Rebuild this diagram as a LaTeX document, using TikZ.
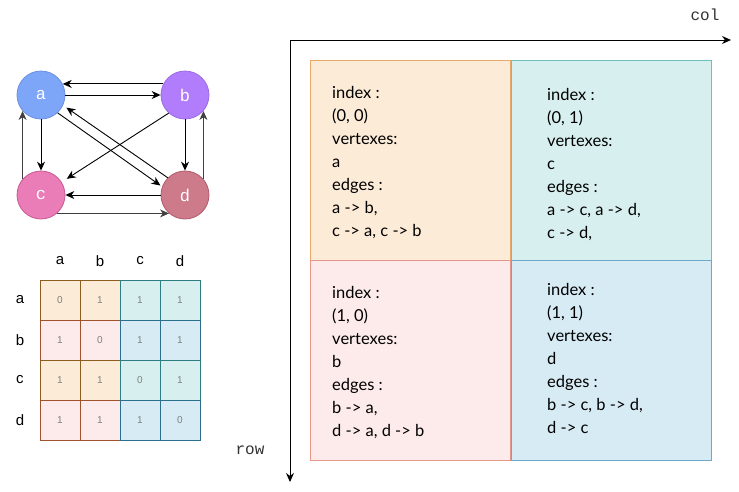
\documentclass[tikz,border=0pt]{standalone}
\usepackage{fontspec}
\setmainfont{Lato}
\setmonofont{Liberation Mono}
\newfontfamily\arialf{Liberation Sans}
\usetikzlibrary{arrows.meta}
\definecolor{aF}{HTML}{7EA6F8}\definecolor{aD}{HTML}{6C8EDF}
\definecolor{bF}{HTML}{B17DFD}\definecolor{bD}{HTML}{9A6AE0}
\definecolor{cF}{HTML}{EA7DB8}\definecolor{cD}{HTML}{C85A90}
\definecolor{dF}{HTML}{CD7A8A}\definecolor{dD}{HTML}{B05A6A}
\definecolor{oF}{HTML}{FCEBD7}\definecolor{oD}{HTML}{8B5E1F}
\definecolor{pF}{HTML}{FCEBEA}\definecolor{pD}{HTML}{A0522D}
\definecolor{tF}{HTML}{D7F0EF}\definecolor{tD}{HTML}{2E7D80}
\definecolor{uF}{HTML}{D7EBF4}\definecolor{uD}{HTML}{2B6E8E}
\definecolor{qoD}{HTML}{E8A86A}\definecolor{qtD}{HTML}{70C0C0}
\definecolor{qpD}{HTML}{E5978B}\definecolor{quD}{HTML}{6EA8C8}
\tikzset{
  vtx/.style={circle,minimum size=48pt,inner sep=0,line width=0.8pt,text=white,font=\ttfamily\fontsize{17}{17}\selectfont},
  edge/.style={-{Stealth[length=9pt,width=8pt]},line width=0.9pt},
  gedge/.style={edge,draw=black!75},
  cell/.style={rectangle,minimum width=40pt,minimum height=40pt,inner sep=0,line width=0.8pt,text=black!50,font=\arialf\fontsize{10}{10}\selectfont},
  mlab/.style={inner sep=0,font=\arialf\fontsize{15}{15}\selectfont},
  quad/.style={rectangle,minimum width=200pt,minimum height=200pt,inner sep=0,line width=0.8pt},
  qtext/.style={anchor=north west,inner sep=0,align=left,font=\fontsize{16.5}{23}\selectfont},
  axis/.style={-{Stealth[length=9pt,width=8pt]},line width=0.9pt},
  axlab/.style={inner sep=0,text=black!80,font=\ttfamily\fontsize{16}{16}\selectfont}
}
\begin{document}
\begin{tikzpicture}[x=1pt,y=-1pt]
\useasboundingbox (0,0) rectangle (739,491);
% graph
\node[vtx,fill=aF,draw=aD] (a) at (41,95) {a};
\node[vtx,fill=bF,draw=bD] (b) at (185,95) {b};
\node[vtx,fill=cF,draw=cD] (c) at (41,195) {c};
\node[vtx,fill=dF,draw=dD] (d) at (185,195) {d};
\draw[edge] (b.153) -- (a.27);
\draw[edge] (a.east) -- (b.west);
\draw[edge] (a.south) -- (c.north);
\draw[gedge] (c.139) -- (a.221);
\draw[edge] (b.south) -- (d.north);
\draw[gedge] (d.41) -- (b.319);
\draw[edge] (d.west) -- (c.east);
\draw[gedge] (c.311) -- (d.229);
\draw[edge,shorten >=2pt] (a.313) -- (d.160);
\draw[edge,shorten >=4pt] (d.135) -- (a.335);
\draw[edge,shorten >=6pt] (b.228) -- (c.32);
% matrix labels
\foreach \n/\x in {a/60,b/100,c/140,d/180}{\node[mlab] (col\n) at (\x,261) {\n};}
\foreach \n/\y in {a/300,b/340,c/380,d/420}{\node[mlab] (row\n) at (20,\y) {\n};}
% matrix cells
\node[cell,fill=oF,draw=oD] (maa) at (60,300) {0};
\node[cell,fill=oF,draw=oD] (mab) at (100,300) {1};
\node[cell,fill=pF,draw=pD] (mba) at (60,340) {1};
\node[cell,fill=pF,draw=pD] (mbb) at (100,340) {0};
\node[cell,fill=oF,draw=oD] (mca) at (60,380) {1};
\node[cell,fill=oF,draw=oD] (mcb) at (100,380) {1};
\node[cell,fill=pF,draw=pD] (mda) at (60,420) {1};
\node[cell,fill=pF,draw=pD] (mdb) at (100,420) {1};
\node[cell,fill=tF,draw=tD] (mac) at (140,300) {1};
\node[cell,fill=tF,draw=tD] (mad) at (180,300) {1};
\node[cell,fill=uF,draw=uD] (mbc) at (140,340) {1};
\node[cell,fill=uF,draw=uD] (mbd) at (180,340) {1};
\node[cell,fill=tF,draw=tD] (mcc) at (140,380) {0};
\node[cell,fill=tF,draw=tD] (mcd) at (180,380) {1};
\node[cell,fill=uF,draw=uD] (mdc) at (140,420) {1};
\node[cell,fill=uF,draw=uD] (mdd) at (180,420) {0};
% quadrants
\node[quad,fill=oF,draw=qoD] (q00) at (410.5,160) {};
\node[quad,fill=tF,draw=qtD] (q01) at (611,160) {};
\node[quad,fill=pF,draw=qpD] (q10) at (410.5,360) {};
\node[quad,fill=uF,draw=quD] (q11) at (611,360) {};
\node[qtext] (t00) at (332,86) {index :\\(0, 0)\\vertexes:\\a\\edges :\\a -> b,\\c -> a, c -> b};
\node[qtext] (t01) at (547,88) {index :\\(0, 1)\\vertexes:\\c\\edges :\\a -> c, a -> d,\\c -> d,};
\node[qtext] (t10) at (332,286) {index :\\(1, 0)\\vertexes:\\b\\edges :\\b -> a,\\d -> a, d -> b};
\node[qtext] (t11) at (547,283) {index :\\(1, 1)\\vertexes:\\d\\edges :\\b -> c, b -> d,\\d -> c};
% axes
\coordinate (o) at (290,40);
\coordinate (xe) at (731,40);
\coordinate (ye) at (290,482);
\draw[axis] (o) -- (xe);
\draw[axis] (o) -- (ye);
\node[axlab] (collab) at (705,15) {col};
\node[axlab] (rowlab) at (250,450) {row};
\end{tikzpicture}
\end{document}
